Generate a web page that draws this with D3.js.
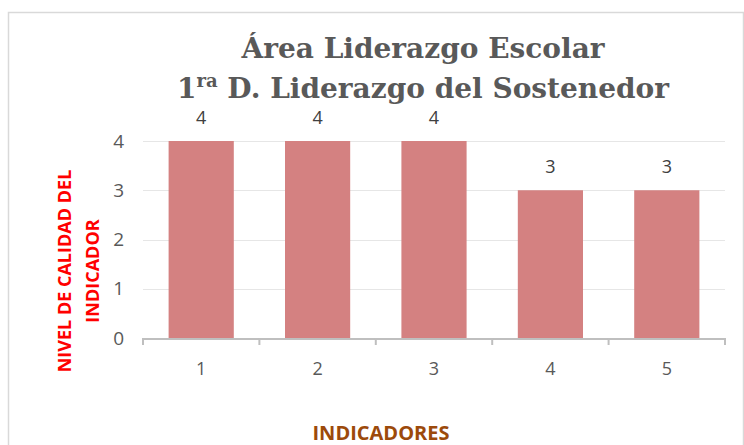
<!DOCTYPE html>
<html>
<head>
<meta charset="utf-8">
<script src="https://cdnjs.cloudflare.com/ajax/libs/d3/7.8.5/d3.min.js"></script>
<style>
	body { margin: 0; background: #fff; }
	svg { display: block; }
</style>
</head>
<body>
<div id="chart"></div>
<script>
// chart data
var indicadores = ["1", "2", "3", "4", "5"];
var niveles = [4, 4, 4, 3, 3];
var yTicks = [0, 1, 2, 3, 4];

var w = 744;
var h = 445;

var svg = d3.select("#chart")
			.append("svg")
			.attr("width", w)
			.attr("height", h);

// outer frame
svg.append("rect")
	.attr("x", 8.5)
	.attr("y", 12.5)
	.attr("width", 735)
	.attr("height", 440)
	.attr("fill", "#fff")
	.attr("stroke", "#d9d9d9")
	.attr("stroke-width", 1.5);

var x = d3.scaleBand()
			.domain(indicadores)
			.range([143, 725])
			.paddingInner(0.44)
			.paddingOuter(0.22);

var y = d3.scaleLinear()
			.domain([0, 4])
			.range([338, 141]);

// gridlines
svg.append("g")
	.selectAll("line")
	.data(yTicks.slice(1))
	.enter()
	.append("line")
	.attr("x1", 143)
	.attr("x2", 725)
	.attr("y1", function(d) { return Math.round(y(d)) + 0.5; })
	.attr("y2", function(d) { return Math.round(y(d)) + 0.5; })
	.attr("stroke", "#e6e6e6")
	.attr("stroke-width", 1);

// bars
svg.append("g")
	.selectAll("rect")
	.data(niveles)
	.enter()
	.append("rect")
	.attr("x", function(d, i) { return x(indicadores[i]); })
	.attr("y", function(d) { return y(d); })
	.attr("width", x.bandwidth())
	.attr("height", function(d) { return y(0) - y(d); })
	.attr("fill", "#d48181");

// data labels
svg.append("g")
	.selectAll("text")
	.data(niveles)
	.enter()
	.append("text")
	.text(function(d) { return d; })
	.attr("x", function(d, i) { return x(indicadores[i]) + x.bandwidth() / 2; })
	.attr("y", function(d) { return y(d) - 17; })
	.attr("text-anchor", "middle")
	.style("font-family", "'Open Sans', sans-serif")
	.style("font-size", "18px")
	.style("fill", "#404040");

// x axis with ticks between categories
var xAxis = d3.axisBottom(x).tickSize(0).tickPadding(24);
var gx = svg.append("g")
	.attr("transform", "translate(0," + y(0) + ")")
	.call(xAxis);
gx.select(".domain").remove();
gx.selectAll("text")
	.style("font-family", "'Open Sans', sans-serif")
	.style("font-size", "18px")
	.style("fill", "#595959");

svg.append("line")
	.attr("x1", 143)
	.attr("x2", 725)
	.attr("y1", y(0) + 1)
	.attr("y2", y(0) + 1)
	.attr("stroke", "#bfbfbf")
	.attr("stroke-width", 2);

var bounds = [143].concat(indicadores.map(function(d) { return x(d) + x.step() * 0.78; }));
svg.append("g")
	.selectAll("line")
	.data(bounds)
	.enter()
	.append("line")
	.attr("x1", function(d) { return d; })
	.attr("x2", function(d) { return d; })
	.attr("y1", y(0))
	.attr("y2", y(0) + 7)
	.attr("stroke", "#bfbfbf")
	.attr("stroke-width", 2);

// y axis labels
var gy = svg.append("g")
	.attr("transform", "translate(143,0)")
	.call(d3.axisLeft(y).tickValues(yTicks).tickFormat(d3.format("d")).tickSize(0).tickPadding(19));
gy.select(".domain").remove();
gy.selectAll("text")
	.style("font-family", "'Open Sans', sans-serif")
	.style("font-size", "19px")
	.style("fill", "#595959");

// title
var title = svg.append("text")
	.attr("text-anchor", "middle")
	.style("font-family", "'DejaVu Serif', serif")
	.style("font-weight", "bold")
	.style("font-size", "28px")
	.style("fill", "#595959");
title.append("tspan")
	.attr("x", 423)
	.attr("y", 58)
	.text("Área Liderazgo Escolar");
var t2 = svg.append("text")
	.attr("x", 423)
	.attr("y", 98)
	.attr("text-anchor", "middle")
	.style("font-family", "'DejaVu Serif', serif")
	.style("font-weight", "bold")
	.style("font-size", "28px")
	.style("fill", "#595959");
t2.append("tspan").text("1");
t2.append("tspan").attr("dy", -11).style("font-size", "18px").text("ra");
t2.append("tspan").attr("dy", 11).text(" D. Liderazgo del Sostenedor");

// y axis title
var yt = svg.append("text")
	.attr("transform", "translate(71,271) rotate(-90)")
	.attr("text-anchor", "middle")
	.style("font-family", "'Open Sans', sans-serif")
	.style("font-weight", "bold")
	.style("font-size", "18px")
	.style("fill", "#ff0000");
yt.append("tspan").attr("x", 0).attr("y", 0).text("NIVEL DE CALIDAD DEL");
yt.append("tspan").attr("x", 0).attr("y", 28).text("INDICADOR");

// x axis title
svg.append("text")
	.attr("x", 381)
	.attr("y", 440)
	.attr("text-anchor", "middle")
	.style("font-family", "'Open Sans', sans-serif")
	.style("font-weight", "bold")
	.style("font-size", "20px")
	.style("fill", "#9c4a0b")
	.text("INDICADORES");
</script>
</body>
</html>
